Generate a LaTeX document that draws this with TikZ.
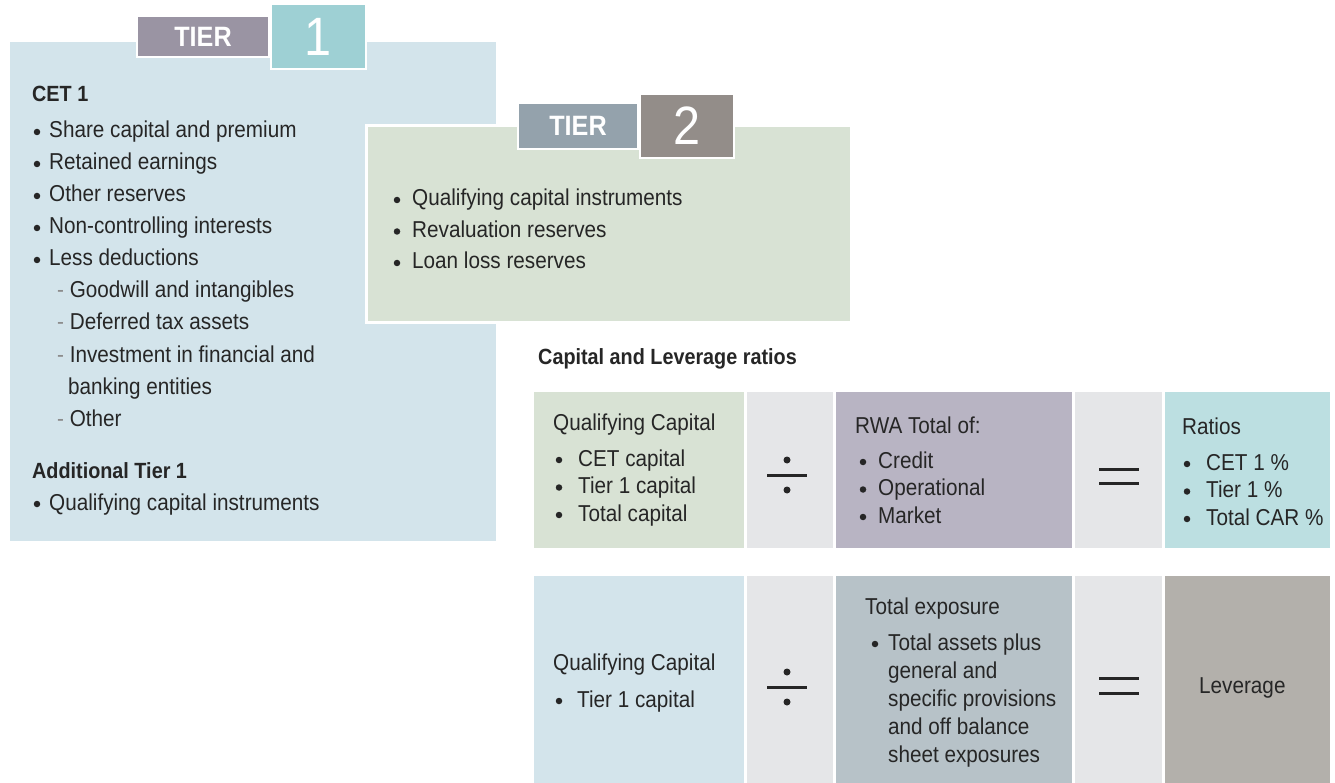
\documentclass[tikz,border=0pt]{standalone}
\usepackage{fontspec}
\setmainfont[FakeStretch=0.9]{Liberation Sans}
\usetikzlibrary{positioning}
\definecolor{ink}{HTML}{262626}
\definecolor{dashc}{HTML}{8C8C8C}
\definecolor{paleblue}{HTML}{D3E4EB}
\definecolor{sage}{HTML}{D8E2D4}
\definecolor{mauve}{HTML}{9A94A3}
\definecolor{teal}{HTML}{9ED0D4}
\definecolor{slate}{HTML}{94A2AC}
\definecolor{taupe}{HTML}{938D89}
\definecolor{opgrey}{HTML}{E5E6E8}
\definecolor{lilac}{HTML}{B8B4C3}
\definecolor{paleteal}{HTML}{BCDFE1}
\definecolor{bluegrey}{HTML}{B7C2C8}
\definecolor{stone}{HTML}{B3B0AB}
\tikzstyle{panel} = [rectangle,anchor=north west,inner sep=0,outer sep=0]
\tikzstyle{tag} = [panel,draw=white,line width=2.5pt,text=white,font=\fontsize{28}{30}\selectfont\bfseries]
\tikzstyle{numbox} = [tag,font=\fontsize{54}{56}\selectfont]
\tikzstyle{cell} = [panel,minimum height=156pt]
\tikzstyle{txt} = [anchor=base west,inner sep=0,text=ink,font=\fontsize{23}{28}\selectfont]
\tikzstyle{head} = [txt,font=\fontsize{22}{26}\selectfont\bfseries]
\tikzstyle{dot} = [circle,fill=ink,inner sep=0,minimum size=6.5pt]
\tikzstyle{sign} = [draw=ink,line width=3pt]

\begin{document}
\begin{tikzpicture}[x=1pt,y=-1pt]
  \useasboundingbox[fill=white] (0,0) rectangle (1335,783);

  % tier 1
  \node[panel,fill=paleblue,minimum width=486pt,minimum height=499pt] (t1) at (10,42) {};
  \node[tag,fill=mauve,minimum width=132pt,minimum height=41pt] (t1tag) at (137,16) {TIER};
  \node[numbox,fill=teal,minimum width=95pt,minimum height=65pt,right=2pt of t1tag] (t1num) {1};
  \node[head] (cet) at (32,102) {CET 1};
  \foreach \t [count=\i] in {Share capital and premium,Retained earnings,Other reserves,Non-controlling interests,Less deductions}{
    \node[dot] (cetb\i) at (37,100+32*\i) {};
    \node[txt] (cet\i) at (49,106+32*\i) {\t};
  }
  \foreach \t/\y [count=\i] in {Goodwill and intangibles/298,Deferred tax assets/330,Investment in financial and/362,Other/426}
    \node[txt] (ded\i) at (57,\y) {\textcolor{dashc}{-} \t};
  \node[txt] (ded5) at (68,394) {banking entities};
  \node[head] (at1) at (32,478) {Additional Tier 1};
  \node[dot] (at1b) at (37,504) {};
  \node[txt] (at1i) at (49,510) {Qualifying capital instruments};

  % tier 2
  \node[panel,fill=sage,draw=white,line width=3pt,minimum width=485pt,minimum height=197pt] (t2) at (366,126) {};
  \node[tag,fill=slate,minimum width=120pt,minimum height=46pt] (t2tag) at (518,103) {TIER};
  \node[numbox,fill=taupe,minimum width=94pt,minimum height=64pt,right=2pt of t2tag] (t2num) {2};
  \foreach \t [count=\i] in {Qualifying capital instruments,Revaluation reserves,Loan loss reserves}{
    \node[dot] (t2b\i) at (397,168.5+31.5*\i) {};
    \node[txt] (t2i\i) at (412,174.5+31.5*\i) {\t};
  }

  % ratios
  \node[head] (ratios) at (538,364) {Capital and Leverage ratios};
  \node[cell,fill=sage,minimum width=210pt] (qc1) at (534,392) {};
  \node[cell,fill=opgrey,minimum width=86pt,right=3pt of qc1] (div1) {};
  \node[cell,fill=lilac,minimum width=236pt,right=3pt of div1] (rwa) {};
  \node[cell,fill=opgrey,minimum width=87pt,right=3pt of rwa] (eq1) {};
  \node[cell,fill=paleteal,minimum width=165pt,right=3pt of eq1] (res1) {};

  \node[txt] (qc1h) at (553,430) {Qualifying Capital};
  \foreach \t [count=\i] in {CET capital,Tier 1 capital,Total capital}{
    \node[dot] (qc1b\i) at (559,432.5+27.5*\i) {};
    \node[txt] (qc1i\i) at (578,438.5+27.5*\i) {\t};
  }
  \node[txt] (rwah) at (855,433) {RWA Total of:};
  \foreach \t [count=\i] in {Credit,Operational,Market}{
    \node[dot] (rwab\i) at (863,434.5+27.5*\i) {};
    \node[txt] (rwai\i) at (878,440.5+27.5*\i) {\t};
  }
  \node[txt] (res1h) at (1182,434) {Ratios};
  \foreach \t [count=\i] in {CET 1 \%,Tier 1 \%,Total CAR \%}{
    \node[dot] (res1b\i) at (1187,436.5+27.5*\i) {};
    \node[txt] (res1i\i) at (1206,442.5+27.5*\i) {\t};
  }
  \draw[sign] (767,475) -- (807,475);
  \fill[ink] (787,460) circle (3.5) (787,490) circle (3.5);
  \draw[sign] (1099,469) -- (1139,469) (1099,483) -- (1139,483);

  % leverage
  \node[cell,fill=paleblue,minimum width=210pt,minimum height=207pt] (qc2) at (534,576) {};
  \node[cell,fill=opgrey,minimum width=86pt,minimum height=207pt,right=3pt of qc2] (div2) {};
  \node[cell,fill=bluegrey,minimum width=236pt,minimum height=207pt,right=3pt of div2] (expo) {};
  \node[cell,fill=opgrey,minimum width=87pt,minimum height=207pt,right=3pt of expo] (eq2) {};
  \node[cell,fill=stone,minimum width=165pt,minimum height=207pt,right=3pt of eq2] (res2) {};

  \node[txt] (qc2h) at (553,670) {Qualifying Capital};
  \node[dot] (qc2b) at (559,701) {};
  \node[txt] (qc2i) at (577,707) {Tier 1 capital};
  \node[txt] (expoh) at (865,614) {Total exposure};
  \node[dot] (expob) at (875,644) {};
  \foreach \t [count=\i] in {Total assets plus,general and,specific provisions,and off balance,sheet exposures}
    \node[txt] (expoi\i) at (888,622+28*\i) {\t};
  \node[txt] (lev) at (1199,693) {Leverage};
  \draw[sign] (767,687) -- (807,687);
  \fill[ink] (787,672) circle (3.5) (787,702) circle (3.5);
  \draw[sign] (1099,678) -- (1139,678) (1099,693) -- (1139,693);
\end{tikzpicture}
\end{document}
